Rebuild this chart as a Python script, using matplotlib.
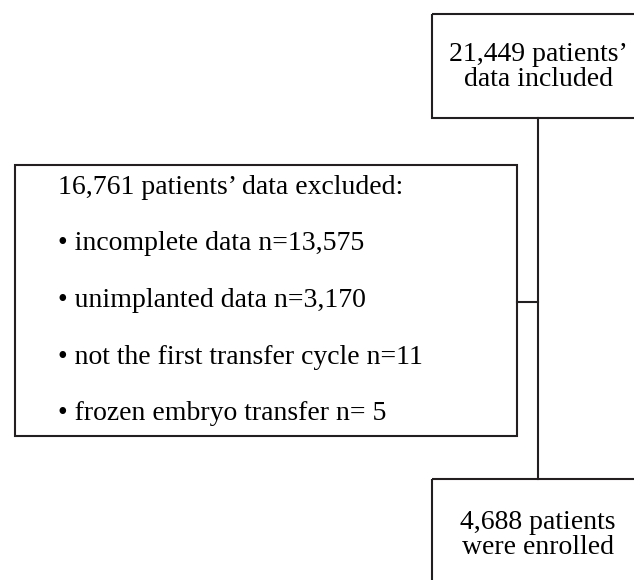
import matplotlib.pyplot as plt
from matplotlib.patches import Rectangle

# texts of the flowchart
top_text = "21,449 patients\u2019\ndata included"
bottom_text = "4,688 patients\nwere enrolled"
excl_title = "16,761 patients\u2019 data excluded:"
excl_items = ["incomplete data n=13,575",
              "unimplanted data n=3,170",
              "not the first transfer cycle n=11",
              "frozen embryo transfer n= 5"]

plt.rcParams['font.family'] = ['Liberation Serif', 'DejaVu Serif']

fig = plt.figure(figsize=(6.34, 5.8), dpi=100)
ax = fig.add_axes([0, 0, 1, 1])
ax.set_xlim(0, 634)
ax.set_ylim(580, 0)
ax.axis('off')

lc = '#231f20'
lw = 1.5

# boxes
ax.add_patch(Rectangle((432, 14), 240, 104, fill=False, ec=lc, lw=lw))
ax.add_patch(Rectangle((432, 479), 240, 140, fill=False, ec=lc, lw=lw))
ax.add_patch(Rectangle((15, 165), 502, 271, fill=False, ec=lc, lw=lw))

# connectors
ax.plot([538, 538], [118, 479], color=lc, lw=lw)
ax.plot([517, 538], [302, 302], color=lc, lw=lw)

fs = 20
ax.text(538, 67, top_text, ha='center', va='center', fontsize=fs,
        linespacing=0.95, color='black')
ax.text(538, 535, bottom_text, ha='center', va='center', fontsize=fs,
        linespacing=0.95, color='black')

ax.text(58, 188, excl_title, ha='left', va='center', fontsize=fs)
for i, item in enumerate(excl_items):
    ax.text(58, 244 + i * 56.5, "\u2022 " + item, ha='left', va='center', fontsize=fs)

fig.savefig('out.png', dpi=100)
